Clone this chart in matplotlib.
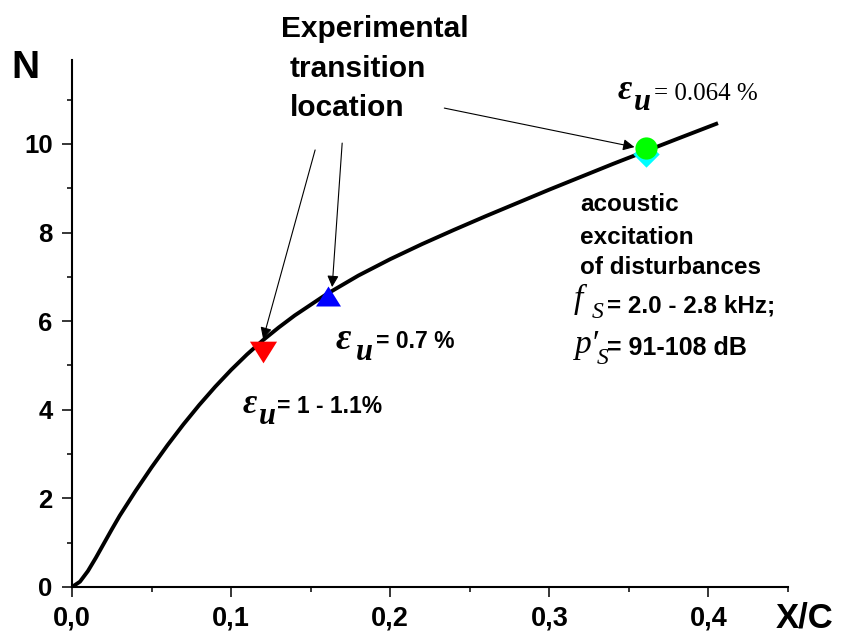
import matplotlib
matplotlib.use("Agg")
import matplotlib.pyplot as plt
from matplotlib.ticker import MultipleLocator, FixedLocator

# N-factor curve along the chord
curve_x = [0.0, 0.005, 0.01, 0.015, 0.02, 0.025, 0.03, 0.04, 0.05, 0.06, 0.07,
           0.08, 0.09, 0.10, 0.11, 0.12, 0.13, 0.14, 0.16, 0.18, 0.20, 0.22,
           0.24, 0.26, 0.28, 0.30, 0.32, 0.34, 0.36, 0.38, 0.406]
curve_n = [0.0, 0.12, 0.36, 0.66, 0.98, 1.30, 1.61, 2.17, 2.70, 3.20, 3.67,
           4.11, 4.52, 4.90, 5.25, 5.57, 5.86, 6.13, 6.61, 7.03, 7.40, 7.74,
           8.06, 8.37, 8.67, 8.97, 9.26, 9.55, 9.83, 10.11, 10.47]

# experimental transition locations
red_x, red_n = [0.120], [5.30]        # eps_u = 1 - 1.1 %
blue_x, blue_n = [0.1606], [6.56]     # eps_u = 0.7 %
green_x, green_n = [0.361], [9.92]    # eps_u = 0.064 %
cyan_x, cyan_n = [0.361], [9.77]      # acoustic excitation

x_major = [0.0, 0.1, 0.2, 0.3, 0.4]
x_labels = ["0,0", "0,1", "0,2", "0,3", "0,4"]
y_major = [0, 2, 4, 6, 8, 10]
y_labels = ["0", "2", "4", "6", "8", "10"]

W, H = 848, 635
SANS = "Liberation Sans"
SERIF = "Liberation Serif"

fig = plt.figure(figsize=(W / 100, H / 100), dpi=100)
ax = fig.add_axes([72 / W, (H - 587) / H, (788 - 72) / W, (587 - 59.8) / H])

ax.plot(curve_x, curve_n, color="black", lw=2.8, solid_capstyle="butt",
        solid_joinstyle="round", zorder=2)

tri_down = [(-1, 0.8), (1, 0.8), (0, -0.8)]
tri_up = [(-1, -0.8), (1, -0.8), (0, 0.8)]
diamond = [(0, 1), (1, 0), (0, -1), (-1, 0)]
ax.plot(red_x, red_n, linestyle="none", marker=tri_down, ms=19.5,
        color="#ff0000", mec="none", zorder=3)
ax.plot(blue_x, blue_n, linestyle="none", marker=tri_up, ms=18,
        color="#0000ff", mec="none", zorder=3)
ax.plot(cyan_x, cyan_n, linestyle="none", marker=diamond, ms=19,
        color="#00ffff", mec="none", zorder=3)
ax.plot(green_x, green_n, linestyle="none", marker="o", ms=16,
        color="#00ff00", mec="none", zorder=4)

arrow = dict(arrowstyle="-|>", color="black", lw=0.8, mutation_scale=17,
             shrinkA=0, shrinkB=0)
ax.annotate("", xy=(0.1201, 5.60), xytext=(0.1528, 9.865), arrowprops=arrow)
ax.annotate("", xy=(0.1635, 6.77), xytext=(0.1698, 10.02), arrowprops=arrow)
ax.annotate("", xy=(0.3535, 9.93), xytext=(0.2340, 10.81), arrowprops=arrow)

ax.set_xlim(0, 0.45)
ax.set_ylim(0, 11.9)
for s in ("top", "right"):
    ax.spines[s].set_visible(False)
for s in ("left", "bottom"):
    ax.spines[s].set_linewidth(1.5)

ax.xaxis.set_major_locator(FixedLocator(x_major))
ax.set_xticklabels(x_labels)
ax.xaxis.set_minor_locator(FixedLocator([0.05, 0.15, 0.25, 0.35, 0.45]))
ax.yaxis.set_major_locator(FixedLocator(y_major))
ax.set_yticklabels(y_labels)
ax.yaxis.set_minor_locator(MultipleLocator(1))

ax.tick_params(axis="both", which="major", direction="out", length=7.5,
               width=1.1)
ax.tick_params(axis="both", which="minor", direction="out", length=3.8,
               width=1.1)
ax.tick_params(axis="x", which="major", pad=6)
ax.tick_params(axis="y", which="major", pad=6.5)
for lab in ax.get_xticklabels():
    lab.set_fontfamily(SANS)
    lab.set_fontweight("bold")
    lab.set_fontsize(19.5)
for lab in ax.get_yticklabels():
    lab.set_fontfamily(SANS)
    lab.set_fontweight("bold")
    lab.set_fontsize(18.5)


def put(x, y, s, **kw):
    """Place text with its left baseline at pixel (x, y) measured from top-left."""
    kw.setdefault("ha", "left")
    kw.setdefault("va", "baseline")
    fig.text(x / W, 1 - y / H, s, **kw)


bold_sans = dict(family=SANS, weight="bold")
eps_font = dict(family=SERIF, style="italic", weight="bold")

# axis titles
put(11, 78, "N", size=28, **bold_sans)
put(776, 627, "X/C", size=25, **bold_sans)

# heading
put(281, 37, "Experimental", size=21.5, **bold_sans)
put(290, 77, "transition", size=21.5, **bold_sans)
put(290, 116, "location", size=21.5, **bold_sans)

# eps_u = 0.064 %
put(618, 99, "\u03b5", size=25, **eps_font)
put(634, 110, "u", size=22, **eps_font)
put(654, 100, "= 0.064 %", size=18, family=SERIF)

# eps_u = 0.7 %
put(336, 349, "\u03b5", size=27, **eps_font)
put(356, 360, "u", size=22, **eps_font)
put(376, 348, "= 0.7 %", size=16.5, **bold_sans)

# eps_u = 1 - 1.1 %
put(243, 413, "\u03b5", size=25, **eps_font)
put(259, 424, "u", size=22, **eps_font)
put(277, 413, "= 1 - 1.1%", size=16.5, **bold_sans)

# acoustic excitation block
put(580, 211, "acoustic", size=17.5, **bold_sans)
put(580, 244, "excitation", size=17.5, **bold_sans)
put(580, 274, "of disturbances", size=17.5, **bold_sans)
put(574, 308, "f", size=24, family=SERIF, style="italic")
put(592, 318, "S", size=17, family=SERIF, style="italic")
put(607, 312, "= 2.0 - 2.8 kHz;", size=17.5, **bold_sans)
put(575, 353, "p\u2032", size=24, family=SERIF, style="italic")
put(597, 364, "S", size=17, family=SERIF, style="italic")
put(607, 355, "= 91-108 dB", size=18, **bold_sans)

fig.savefig("out.png", dpi=100)
